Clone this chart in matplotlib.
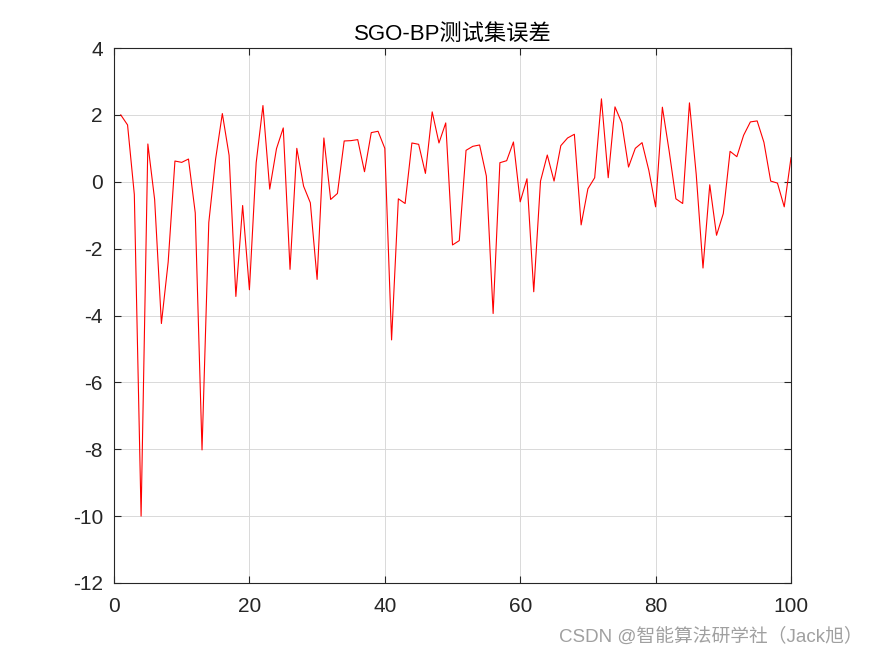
import numpy as np
import matplotlib
matplotlib.use('Agg')
from matplotlib import pyplot as plt

plt.rcParams['font.family'] = ['Liberation Sans', 'Noto Sans CJK SC', 'DejaVu Sans']
plt.rcParams['axes.unicode_minus'] = False

# 测试集误差
idx = np.arange(1, 101)
err = [2.00, 1.70, -0.38, -10.0, 1.13, -0.53, -4.24, -2.40, 0.62, 0.58,
       0.68, -0.93, -8.02, -1.22, 0.67, 2.04, 0.79, -3.43, -0.71, -3.23,
       0.57, 2.28, -0.22, 0.99, 1.61, -2.62, 1.00, -0.13, -0.63, -2.92,
       1.31, -0.53, -0.35, 1.22, 1.23, 1.26, 0.30, 1.47, 1.51, 1.00,
       -4.73, -0.51, -0.65, 1.16, 1.12, 0.25, 2.09, 1.16, 1.76, -1.89,
       -1.76, 0.94, 1.06, 1.10, 0.17, -3.94, 0.57, 0.63, 1.19, -0.60,
       0.09, -3.29, 0.02, 0.80, 0.02, 1.08, 1.31, 1.42, -1.29, -0.21,
       0.12, 2.48, 0.12, 2.24, 1.76, 0.44, 1.00, 1.17, 0.34, -0.75,
       2.23, 0.92, -0.51, -0.65, 2.36, 0.22, -2.58, -0.09, -1.60, -0.95,
       0.91, 0.75, 1.39, 1.79, 1.82, 1.18, 0.02, -0.04, -0.75, 0.72]
xticks = [0, 20, 40, 60, 80, 100]
yticks = [-12, -10, -8, -6, -4, -2, 0, 2, 4]

fig = plt.figure(figsize=(8.75, 6.56), dpi=100)
ax = fig.add_axes([0.1303, 0.1113, 0.7737, 0.8155])
ax.plot(idx, err, color='red', linewidth=0.8)

ax.set_xlim(0, 100)
ax.set_ylim(-12, 4)
ax.set_xticks(xticks)
ax.set_yticks(yticks)
ax.grid(True, color='#d9d9d9', linewidth=0.7)
ax.set_axisbelow(True)
ax.tick_params(direction='in', top=True, right=True, labelsize=15,
               colors='#262626', length=5)
ax.tick_params(axis='x', pad=10)
ax.tick_params(axis='y', pad=8)
for s in ax.spines.values():
    s.set_color('#262626')
    s.set_linewidth(0.8)

ax.set_title('SGO-BP测试集误差', fontsize=16, color='black', pad=6)

fig.text(0.986, 0.03, 'CSDN @智能算法研学社（Jack旭）', ha='right', va='center',
         fontsize=13.5, color='#a0a0a0')

fig.savefig('out.png', dpi=100)
